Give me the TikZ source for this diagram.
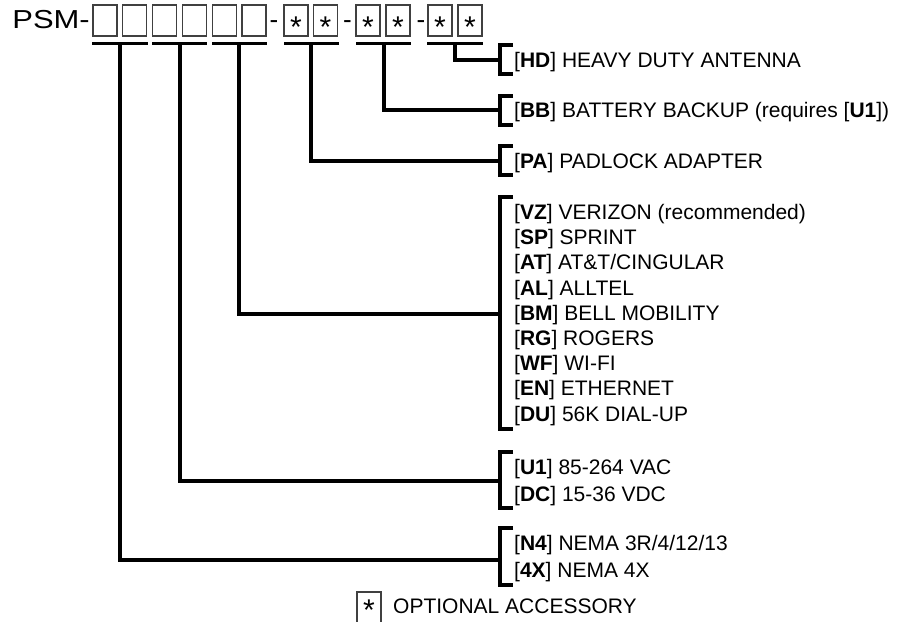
\documentclass[tikz,border=0pt]{standalone}
\usepackage{fontspec}
\setmainfont{Liberation Sans}
\usepackage{tikz}
\usetikzlibrary{positioning}
\newcommand{\itemfont}{\fontsize{21}{25}\selectfont}
\newcommand{\codefont}{\fontsize{26}{30}\selectfont}
\newcommand{\starfont}{\fontsize{30}{30}\selectfont}

\begin{document}
\begin{tikzpicture}[x=1pt, y=-1pt,
		digit/.style={draw=black!75, line width=1.1pt, minimum width=24pt, minimum height=31pt, inner sep=0pt},
		star/.style={anchor=base, inner sep=0pt, font=\starfont},
		opt/.style={anchor=base west, inner sep=0pt, font=\itemfont},
		conn/.style={line width=3.2pt},
		brk/.style={line width=3.2pt}]
		\useasboundingbox (0,0) rectangle (899,621);
		% part number
		\node[anchor=base east, inner sep=0pt, font=\codefont] (psm) at (90,28) {\scalebox{1.19}[1]{PSM-}};
		\node[digit] (b1) at (105,20.5) {};
		\node[digit] (b2) at (134.8,20.5) {};
		\node[digit] (b3) at (164.6,20.5) {};
		\node[digit] (b4) at (194.4,20.5) {};
		\node[digit] (b5) at (224.2,20.5) {};
		\node[digit] (b6) at (254,20.5) {};
		\node[anchor=base, inner sep=0pt, font=\codefont] (m1) at (274,28) {-};
		\node[digit] (b7) at (296,20.5) {};
		\node[digit] (b8) at (325.5,20.5) {};
		\node[anchor=base, inner sep=0pt, font=\codefont] (m2) at (347.5,28) {-};
		\node[digit] (b9) at (368,20.5) {};
		\node[digit] (b10) at (398,20.5) {};
		\node[anchor=base, inner sep=0pt, font=\codefont] (m3) at (421,28) {-};
		\node[digit] (b11) at (440,20.5) {};
		\node[digit] (b12) at (470,20.5) {};
		\node[star] at (296,37.5) {*};
		\node[star] at (325.5,37.5) {*};
		\node[star] at (368,37.5) {*};
		\node[star] at (398,37.5) {*};
		\node[star] at (440,37.5) {*};
		\node[star] at (470,37.5) {*};
		% underlines
		\draw[conn] (92,43.5) -- (148,43.5);
		\draw[conn] (152,43.5) -- (207,43.5);
		\draw[conn] (212,43.5) -- (267,43.5);
		\draw[conn] (284,43.5) -- (339,43.5);
		\draw[conn] (356,43.5) -- (411,43.5);
		\draw[conn] (427,43.5) -- (483,43.5);
		\coordinate (d1) at (120,43.5);
		\coordinate (d2) at (180,43.5);
		\coordinate (d3) at (239,43.5);
		\coordinate (d4) at (311,43.5);
		\coordinate (d5) at (384,43.5);
		\coordinate (d6) at (455,43.5);
		% brackets
		\draw[brk] (513,45) -- (500,45) -- (500,74) -- (513,74);
		\draw[brk] (513,96) -- (500,96) -- (500,125) -- (513,125);
		\draw[brk] (513,146) -- (500,146) -- (500,175) -- (513,175);
		\draw[brk] (513,197) -- (500,197) -- (500,429) -- (513,429);
		\draw[brk] (513,452) -- (500,452) -- (500,508) -- (513,508);
		\draw[brk] (513,528) -- (500,528) -- (500,585) -- (513,585);
		\coordinate (k6) at (500,60);
		\coordinate (k5) at (500,110);
		\coordinate (k4) at (500,161);
		\coordinate (k3) at (500,314);
		\coordinate (k2) at (500,481);
		\coordinate (k1) at (500,560);
		% connectors
		\draw[conn] (d6) |- (k6);
		\draw[conn] (d5) |- (k5);
		\draw[conn] (d4) |- (k4);
		\draw[conn] (d3) |- (k3);
		\draw[conn] (d2) |- (k2);
		\draw[conn] (d1) |- (k1);
		% options
		\node[opt] (hd) at (514,67.5) {[\textbf{HD}] HEAVY DUTY ANTENNA};
		\node[opt] (bb) at (514,117.5) {[\textbf{BB}] BATTERY BACKUP (requires [\textbf{U1}])};
		\node[opt] (pa) at (514,168.5) {[\textbf{PA}] PADLOCK ADAPTER};
		\node[opt] (vz) at (514,219.5) {[\textbf{VZ}] VERIZON (recommended)};
		\node[opt] (sp) at (514,244.7) {[\textbf{SP}] SPRINT};
		\node[opt] (at) at (514,269.9) {[\textbf{AT}] AT\&T/CINGULAR};
		\node[opt] (al) at (514,295.1) {[\textbf{AL}] ALLTEL};
		\node[opt] (bm) at (514,320.3) {[\textbf{BM}] BELL MOBILITY};
		\node[opt] (rg) at (514,345.5) {[\textbf{RG}] ROGERS};
		\node[opt] (wf) at (514,370.7) {[\textbf{WF}] WI-FI};
		\node[opt] (en) at (514,395.9) {[\textbf{EN}] ETHERNET};
		\node[opt] (du) at (514,421.1) {[\textbf{DU}] 56K DIAL-UP};
		\node[opt] (u1) at (514,474.5) {[\textbf{U1}] 85-264 VAC};
		\node[opt] (dc) at (514,501.5) {[\textbf{DC}] 15-36 VDC};
		\node[opt] (n4) at (514,550.5) {[\textbf{N4}] NEMA 3R/4/12/13};
		\node[opt] (x4) at (514,577.5) {[\textbf{4X}] NEMA 4X};
		% legend
		\node[digit] (key) at (369,607.5) {};
		\node[star] at (369,620.5) {*};
		\node[opt] (keytext) at (393,613.5) {OPTIONAL ACCESSORY};
	\end{tikzpicture}
\end{document}
